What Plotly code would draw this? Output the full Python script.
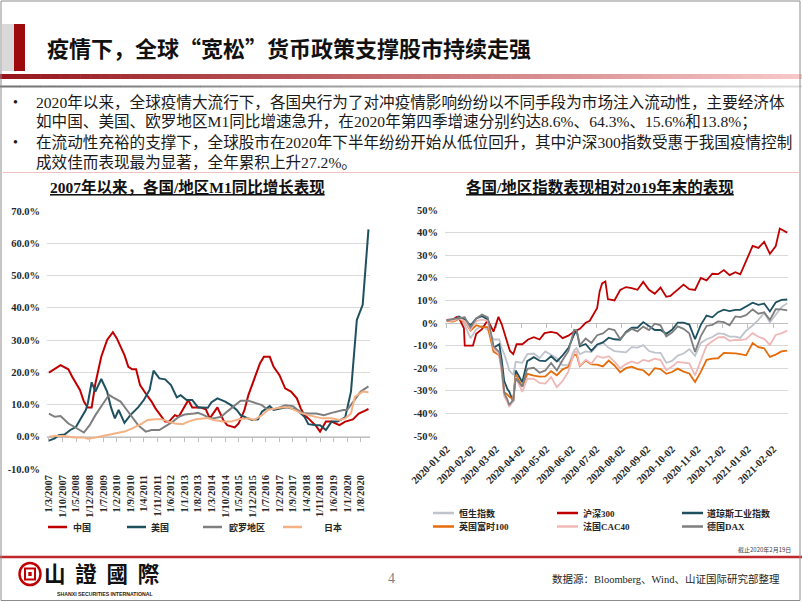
import plotly.graph_objects as go

W, H = 802, 602
def px(x): return x / W
def py(y): return 1 - y / H

SERIF_CJK = "Liberation Serif, Noto Sans CJK SC"
CJK = "Noto Sans CJK SC"

# ---------------- Left chart: M1 YoY growth (%) ----------------
cn_dates = ['2007-03','2007-09','2008-01','2008-03','2008-07','2008-09','2008-11','2009-01','2009-03','2009-06',
            '2009-09','2009-12','2010-02','2010-06','2010-08','2010-10','2010-12','2011-02','2011-05','2011-08',
            '2011-10','2012-01','2012-03','2012-05','2012-08','2012-10','2013-01','2013-03','2013-05','2013-09',
            '2013-12','2014-02','2014-06','2014-09','2014-11','2015-03','2015-05','2015-08','2015-10','2016-01',
            '2016-04','2016-06','2016-09','2016-11','2017-02','2017-05','2017-08','2017-11','2018-01','2018-03',
            '2018-05','2018-09','2018-11','2019-02','2019-05','2019-09','2019-12','2020-04','2020-07','2020-10','2020-12']
cn_vals = [19.9,22.2,20.9,18.6,14.5,10.9,9.1,9.1,16.5,24.8,
           30.0,32.4,30.5,25.3,21.7,20.9,20.9,16.0,13.4,10.9,
           8.8,6.2,4.7,4.7,6.7,6.2,9.3,11.4,9.1,9.1,
           8.5,5.7,9.1,5.2,3.6,2.9,4.1,8.3,12.9,17.6,
           22.8,24.8,24.8,21.7,19.1,15.0,14.0,11.9,8.8,6.7,
           5.7,3.3,1.6,4.7,4.7,3.6,4.7,5.4,7.2,8.0,8.6]

us_dates = ['2007-03','2007-06','2007-08','2007-11','2008-02','2008-05','2008-07','2008-10','2008-11','2009-01',
            '2009-03','2009-06','2009-09','2009-11','2010-01','2010-03','2010-06','2010-09','2011-01','2011-04',
            '2011-07','2011-09','2011-12','2012-03','2012-06','2012-09','2012-11','2013-02','2013-05','2013-08',
            '2013-10','2014-01','2014-03','2014-06','2014-10','2015-01','2015-04','2015-06','2015-09','2015-12',
            '2016-03','2016-05','2016-09','2016-11','2017-03','2017-06','2017-10','2017-12','2018-03','2018-05',
            '2018-09','2018-11','2019-02','2019-05','2019-08','2019-11','2019-12','2020-03','2020-06','2020-09','2020-12']
us_vals = [-1.2,-0.5,0.5,0.7,2.1,3.1,5.2,8.3,10.3,16.9,
           14.0,17.9,14.0,9.1,5.7,8.3,4.3,6.7,9.1,11.4,
           14.5,20.5,18.1,17.8,16.0,12.2,12.9,11.4,11.4,9.1,
           9.1,9.0,10.7,11.9,10.9,9.8,8.3,6.7,5.9,5.2,
           5.4,7.8,9.5,8.3,8.8,9.1,8.5,7.8,6.2,3.9,
           3.6,3.6,2.1,4.7,4.7,5.6,6.0,14.0,36.2,40.9,64.3]

ez_dates = ['2007-03','2007-06','2007-09','2008-01','2008-04','2008-07','2008-09','2008-12','2009-03','2009-07',
            '2009-10','2009-12','2010-04','2010-06','2010-10','2011-01','2011-05','2011-08','2011-12','2012-03',
            '2012-07','2012-10','2013-01','2013-06','2013-08','2013-11','2014-02','2014-04','2014-08','2014-11',
            '2015-03','2015-06','2015-10','2016-01','2016-05','2016-07','2016-11','2017-02','2017-05','2017-09',
            '2017-11','2018-02','2018-05','2018-09','2019-01','2019-05','2019-08','2019-11','2020-01','2020-05',
            '2020-08','2020-12']
ez_vals = [7.2,6.2,6.4,4.1,3.1,2.1,1.3,3.6,6.7,10.3,
           13.0,12.2,10.9,9.3,6.2,3.6,1.6,2.1,2.1,3.3,
           4.7,6.2,6.9,7.2,7.4,6.7,5.7,5.7,6.2,7.8,
           9.8,11.2,11.2,10.5,9.8,8.8,8.5,9.1,9.8,9.5,
           8.5,7.4,7.2,7.2,6.7,7.4,7.8,8.3,8.3,11.4,
           14.0,15.6]

jp_dates = ['2007-03','2007-06','2007-11','2008-04','2008-09','2008-11','2009-03','2009-08','2010-01','2010-06',
            '2010-10','2011-03','2011-06','2011-10','2012-01','2012-05','2012-08','2012-12','2013-03','2013-07',
            '2013-10','2014-01','2014-04','2014-09','2015-01','2015-05','2015-10','2016-01','2016-05','2016-08',
            '2016-12','2017-03','2017-07','2017-10','2018-01','2018-05','2018-08','2018-12','2019-05','2019-09',
            '2019-12','2020-03','2020-05','2020-09','2020-12']
jp_vals = [0.0,0.2,0.2,-0.2,-0.2,-0.6,-0.2,0.5,1.0,1.6,
           2.6,4.1,5.2,5.4,5.4,4.7,4.1,3.9,4.7,5.4,
           5.6,5.8,5.2,4.7,4.7,5.4,5.7,5.2,6.7,8.3,
           8.8,9.1,9.1,8.3,7.4,6.7,6.2,5.7,5.7,5.2,
           5.7,7.2,12.4,14.0,13.8]

left_names = ['中国', '美国', '欧罗地区', '日本']
left_tick_dates = ['2007-03-01','2007-10-01','2008-05-01','2008-12-01','2009-07-01','2010-02-01','2010-09-01',
                   '2011-04-01','2011-11-01','2012-06-01','2013-01-01','2013-08-01','2014-03-01','2014-10-01',
                   '2015-05-01','2015-12-01','2016-07-01','2017-02-01','2017-09-01','2018-04-01','2018-11-01',
                   '2019-06-01','2020-01-01','2020-08-01']
left_tick_labels = ['1/3/2007','1/10/2007','1/5/2008','1/12/2008','1/7/2009','1/2/2010','1/9/2010',
                    '1/4/2011','1/11/2011','1/6/2012','1/1/2013','1/8/2013','1/3/2014','1/10/2014',
                    '1/5/2015','1/12/2015','1/7/2016','1/2/2017','1/9/2017','1/4/2018','1/11/2018',
                    '1/6/2019','1/1/2020','1/8/2020']
left_y_ticks = [-10, 0, 10, 20, 30, 40, 50, 60, 70]
left_y_labels = ['-10.0%', '0.0%', '10.0%', '20.0%', '30.0%', '40.0%', '50.0%', '60.0%', '70.0%']

# ---------------- Right chart: index performance vs end-2019 (%) ----------------
week_dates = ['2020-01-02','2020-01-10','2020-01-17','2020-01-24','2020-01-31','2020-02-07','2020-02-14','2020-02-21',
              '2020-02-28','2020-03-06','2020-03-09','2020-03-12','2020-03-16','2020-03-18','2020-03-23','2020-03-26',
              '2020-04-03','2020-04-09','2020-04-17','2020-04-24','2020-05-01','2020-05-08','2020-05-15','2020-05-22',
              '2020-05-29','2020-06-05','2020-06-08','2020-06-12','2020-06-19','2020-06-26','2020-07-03','2020-07-10',
              '2020-07-17','2020-07-24','2020-07-31','2020-08-07','2020-08-14','2020-08-21','2020-08-28','2020-09-04',
              '2020-09-11','2020-09-18','2020-09-25','2020-10-02','2020-10-09','2020-10-16','2020-10-23','2020-10-30',
              '2020-11-06','2020-11-13','2020-11-20','2020-11-27','2020-12-04','2020-12-11','2020-12-18','2020-12-24',
              '2020-12-31','2021-01-08','2021-01-15','2021-01-22','2021-01-29','2021-02-05','2021-02-12','2021-02-19']
hsi_vals = [1.3, 1.6, 3.1, -1.0, -6.7, -2.8, -1.3, -3.1,
            -7.3, -7.3, -11.2, -13.8, -18.2, -20.9, -23.0, -17.2,
            -17.6, -13.8, -13.5, -15.5, -12.6, -14.0, -15.6, -18.7,
            -18.5, -12.1, -11.1, -13.8, -12.6, -12.9, -10.0, -8.7,
            -11.0, -12.4, -12.8, -13.0, -10.7, -10.9, -9.8, -12.4,
            -13.1, -13.2, -17.6, -16.8, -14.4, -13.5, -11.6, -14.5,
            -8.8, -7.2, -6.2, -4.6, -4.8, -6.0, -6.0, -6.6,
            -3.4, -1.1, 1.4, 4.5, 0.3, 3.9, 7.0, 8.7]
dji_vals = [1.2, 1.0, 2.8, 1.6, -1.0, 2.0, 3.0, 1.6,
            -11.0, -9.4, -16.4, -25.7, -29.3, -30.3, -34.9, -21.0,
            -26.2, -16.9, -15.1, -16.7, -16.9, -14.7, -17.0, -14.3,
            -11.1, -5.0, -3.4, -10.3, -9.3, -12.3, -9.5, -8.6,
            -6.5, -7.2, -7.4, -3.9, -2.1, -2.1, 0.4, -1.4,
            -3.1, -3.1, -4.8, -3.0, 0.2, 0.2, -0.7, -7.1,
            -0.8, 3.3, 2.5, 4.8, 5.9, 5.3, 5.8, 5.8,
            7.2, 9.0, 8.0, 8.6, 5.1, 9.1, 10.2, 10.4]
ftse_vals = [0.8, 0.6, 1.8, 0.6, -3.4, -1.0, -1.8, -1.8,
             -12.7, -14.3, -20.9, -30.6, -31.7, -32.6, -33.8, -22.9,
             -28.2, -22.5, -23.3, -23.7, -23.6, -21.3, -23.1, -20.5,
             -19.4, -14.0, -14.2, -19.1, -16.6, -18.3, -18.4, -19.2,
             -16.6, -18.8, -21.8, -20.0, -19.3, -20.4, -20.9, -23.1,
             -20.0, -20.4, -22.5, -21.7, -20.2, -21.5, -22.3, -26.1,
             -21.6, -16.3, -15.8, -15.6, -13.2, -13.2, -13.4, -13.8,
             -14.3, -8.9, -10.7, -11.2, -15.0, -14.0, -12.6, -12.2]
cac_vals = [1.1, 1.0, 2.1, 0.8, -2.9, 0.9, 1.5, 0.9,
            -11.2, -14.0, -22.4, -32.4, -35.1, -37.2, -34.5, -24.0,
            -30.5, -24.6, -24.7, -26.5, -26.8, -23.9, -28.4, -25.6,
            -21.5, -13.0, -12.6, -19.0, -16.3, -17.9, -14.6, -15.4,
            -14.7, -17.1, -20.0, -18.2, -17.0, -17.9, -16.3, -16.9,
            -15.8, -16.4, -20.9, -19.3, -17.2, -17.4, -17.9, -23.2,
            -17.0, -10.0, -8.1, -6.4, -6.2, -7.9, -7.5, -7.6,
            -7.1, -4.5, -6.1, -7.0, -9.7, -5.3, -4.6, -3.4]
dax_vals = [1.0, 1.8, 2.1, 2.5, -2.0, 2.0, 3.7, 2.5,
            -10.3, -12.9, -19.8, -30.9, -34.0, -36.3, -34.0, -24.5,
            -28.1, -20.3, -19.8, -22.0, -21.0, -17.7, -21.0, -16.4,
            -12.5, -3.0, -3.2, -9.8, -6.9, -8.8, -5.4, -4.6,
            -2.5, -3.1, -7.1, -4.3, -2.6, -3.7, -1.6, -3.1,
            -0.3, -1.0, -5.9, -4.2, -1.5, -2.6, -4.6, -12.8,
            -5.8, -1.3, -0.8, 0.7, 0.4, -1.0, 2.9, 2.6,
            3.5, 6.0, 4.1, 4.7, 1.4, 6.1, 6.0, 5.6]
csi_dates = ['2020-01-02','2020-01-10','2020-01-14','2020-01-17','2020-01-23','2020-01-24','2020-02-03','2020-02-07',
             '2020-02-14','2020-02-21','2020-02-28','2020-03-05','2020-03-09','2020-03-13','2020-03-16','2020-03-19',
             '2020-03-23','2020-03-27','2020-04-03','2020-04-10','2020-04-17','2020-04-24','2020-04-30','2020-05-08',
             '2020-05-15','2020-05-22','2020-05-29','2020-06-05','2020-06-12','2020-06-19','2020-06-24','2020-07-03',
             '2020-07-06','2020-07-09','2020-07-13','2020-07-16','2020-07-24','2020-07-31','2020-08-07','2020-08-14',
             '2020-08-21','2020-08-28','2020-09-04','2020-09-11','2020-09-18','2020-09-25','2020-09-30','2020-10-16',
             '2020-10-23','2020-10-30','2020-11-06','2020-11-13','2020-11-20','2020-11-27','2020-12-04','2020-12-11',
             '2020-12-18','2020-12-24','2020-12-31','2021-01-08','2021-01-15','2021-01-22','2021-01-29','2021-02-05',
             '2021-02-10','2021-02-19']
csi_vals = [1.4, 1.6, 2.6, 2.2, -2.3, -10.0, -10.0, -4.8,
            -2.7, 1.3, -3.8, 2.7, -0.6, -4.9, -9.0, -12.4,
            -13.8, -9.4, -9.4, -7.3, -6.3, -7.3, -4.5, -3.9,
            -4.5, -6.7, -5.6, -3.8, -2.6, 0.1, 1.0, 6.7,
            14.0, 17.5, 18.4, 10.6, 10.0, 14.6, 15.9, 15.4,
            14.7, 18.2, 14.7, 12.9, 15.7, 11.6, 12.0, 17.0,
            15.0, 14.6, 20.0, 18.9, 21.8, 21.6, 23.4, 21.2,
            22.5, 21.5, 27.2, 34.1, 33.2, 35.9, 30.6, 33.9,
            41.8, 40.0]

right_names = ['恒生指数', '沪深300', '道琼斯工业指数', '英国富时100', '法国CAC40', '德国DAX']
right_tick_dates = ['2020-01-02','2020-02-02','2020-03-02','2020-04-02','2020-05-02','2020-06-02','2020-07-02',
                    '2020-08-02','2020-09-02','2020-10-02','2020-11-02','2020-12-02','2021-01-02','2021-02-02']
right_y_ticks = [-50, -40, -30, -20, -10, 0, 10, 20, 30, 40, 50]
right_y_labels = ['-50%', '-40%', '-30%', '-20%', '-10%', '0%', '10%', '20%', '30%', '40%', '50%']

# ---------------- styles ----------------
RED, TEAL, GRAY, PEACH = '#c00000', '#1f5060', '#7f7f7f', '#f4b183'
HSI_C, FTSE_C, CAC_C = '#bfc3cb', '#e46c0a', '#f0b7b7'
left_colors = [RED, TEAL, GRAY, PEACH]
right_colors = [HSI_C, RED, TEAL, FTSE_C, CAC_C, GRAY]
TICKFONT = dict(family='Liberation Serif', size=10.5, color='#262626', weight='bold')

fig = go.Figure()
for xs, ys, c, n in [(cn_dates, cn_vals, RED, left_names[0]), (us_dates, us_vals, TEAL, left_names[1]),
                     (ez_dates, ez_vals, GRAY, left_names[2]), (jp_dates, jp_vals, PEACH, left_names[3])]:
    fig.add_trace(go.Scatter(x=xs, y=ys, mode='lines', name=n, line=dict(color=c, width=2),
                             xaxis='x', yaxis='y', hoverinfo='skip', showlegend=False))

right_series = [(week_dates, hsi_vals), (csi_dates, csi_vals), (week_dates, dji_vals),
                (week_dates, ftse_vals), (week_dates, cac_vals), (week_dates, dax_vals)]
for (xs, ys), c, n in zip(right_series, right_colors, right_names):
    fig.add_trace(go.Scatter(x=xs, y=ys, mode='lines', name=n, line=dict(color=c, width=1.8),
                             xaxis='x2', yaxis='y2', hoverinfo='skip', showlegend=False))

# helper traces so the zero-line tick axes are drawn
fig.add_trace(go.Scatter(x=left_tick_dates[:1], y=[None], mode='lines', xaxis='x3', yaxis='y',
                         hoverinfo='skip', showlegend=False))
fig.add_trace(go.Scatter(x=right_tick_dates[:1], y=[None], mode='lines', xaxis='x4', yaxis='y2',
                         hoverinfo='skip', showlegend=False))

L_RANGE = ['2007-01-30', '2020-12-25']
R_RANGE = ['2019-12-31', '2021-02-20']

layout_axes = dict(
    xaxis=dict(domain=[px(47), px(370)], range=L_RANGE, type='date', tickmode='array',
               tickvals=left_tick_dates, ticktext=left_tick_labels, tickangle=-90, tickfont=TICKFONT,
               showgrid=False, zeroline=False, showline=False, ticks='', anchor='y', ticklabelstandoff=3),
    yaxis=dict(domain=[py(469), py(211)], range=[-10, 70], tickmode='array', tickvals=left_y_ticks,
               ticktext=left_y_labels, tickfont=TICKFONT, showgrid=True, gridcolor='#d9d9d9', gridwidth=1,
               zeroline=False, showline=False, ticks='', anchor='x', ticklabelstandoff=6),
    xaxis3=dict(overlaying='x', anchor='free', position=py(437), range=L_RANGE, type='date', tickmode='array',
                tickvals=left_tick_dates, showticklabels=False, ticks='outside', ticklen=4, tickwidth=1,
                tickcolor='#bfbfbf', showline=True, linecolor='#bfbfbf', linewidth=1, showgrid=False,
                zeroline=False, layer='below traces'),
    xaxis2=dict(domain=[px(445), px(788)], range=R_RANGE, type='date', tickmode='array',
                tickvals=right_tick_dates, ticktext=right_tick_dates, tickangle=-45, tickfont=TICKFONT,
                showgrid=False, zeroline=False, showline=False, ticks='', anchor='y2', ticklabelstandoff=4),
    yaxis2=dict(domain=[py(436), py(210)], range=[-50, 50], tickmode='array', tickvals=right_y_ticks,
                ticktext=right_y_labels, tickfont=TICKFONT, showgrid=True, gridcolor='#d9d9d9', gridwidth=1,
                zeroline=False, showline=False, ticks='', anchor='x2', ticklabelstandoff=6),
    xaxis4=dict(overlaying='x2', anchor='free', position=py(323.3), range=R_RANGE, type='date',
                tickmode='array', tickvals=right_tick_dates, showticklabels=False, ticks='outside', ticklen=4,
                tickwidth=1, tickcolor='#bfbfbf', showline=True, linecolor='#bfbfbf', linewidth=1,
                showgrid=False, zeroline=False, layer='below traces'),
)

shapes = []
def rect(x0, y0, x1, y1, fill, line_w=0, line_c=None):
    shapes.append(dict(type='rect', xref='paper', yref='paper', x0=px(x0), x1=px(x1), y0=py(y1), y1=py(y0),
                       fillcolor=fill, line=dict(width=line_w, color=line_c or fill)))
def hline(x0, x1, y, color, w):
    shapes.append(dict(type='line', xref='paper', yref='paper', x0=px(x0), x1=px(x1), y0=py(y), y1=py(y),
                       line=dict(color=color, width=w)))

# title block
rect(2, 24, 14, 71, '#d9d9d9')
rect(14, 24, 25, 71, '#9c0a0e')
# gradient red band under the title
N = 80
c0, c1 = (150, 22, 28), (247, 200, 200)
for i in range(N):
    t = i / (N - 1)
    col = 'rgb(%d,%d,%d)' % tuple(round(a + (b - a) * t) for a, b in zip(c0, c1))
    rect(i * W / N, 74, (i + 1) * W / N + 0.6, 79, col)
# thin gray gradient line
g0, g1 = (115, 115, 115), (220, 220, 220)
for i in range(40):
    t = i / 39
    col = 'rgb(%d,%d,%d)' % tuple(round(a + (b - a) * t) for a, b in zip(g0, g1))
    hline(i * W / 40, (i + 1) * W / 40 + 0.5, 86.5, col, 2)
# pink separator below bullets
hline(3, 799, 172.5, '#efc2c2', 1)
# footer red line
hline(0, 802, 557, '#c0272d', 2.5)
# outer slide border
shapes.append(dict(type='rect', xref='paper', yref='paper', x0=px(1), x1=px(800), y0=py(600.5), y1=py(1),
                   line=dict(color='#8c8c8c', width=1)))
# logo seal
shapes.append(dict(type='circle', xref='paper', yref='paper', x0=px(19.5), x1=px(40.5), y0=py(585), y1=py(563),
                   line=dict(color='#c00000', width=2.5)))
shapes.append(dict(type='rect', xref='paper', yref='paper', x0=px(25), x1=px(35), y0=py(579.5), y1=py(568.5),
                   line=dict(color='#c00000', width=2)))
rect(28.3, 572, 31.7, 576, '#c00000')

annotations = []
def text(x, y, s, size, family=SERIF_CJK, color='#1a1a1a', anchor='left', weight='normal'):
    annotations.append(dict(xref='paper', yref='paper', x=px(x), y=py(y), text=s, showarrow=False,
                            xanchor=anchor, yanchor='middle', borderpad=0,
                            font=dict(size=size, family=family, color=color, weight=weight)))

# slide title
text(46, 47, '疫情下，全球“宽松”货币政策支撑股市持续走强', 22, family=CJK, color='#111111', weight='bold')
# bullets
bullet_lines = ['2020年以来，全球疫情大流行下，各国央行为了对冲疫情影响纷纷以不同手段为市场注入流动性，主要经济体',
                '如中国、美国、欧罗地区M1同比增速急升，在2020年第四季增速分别约达8.6%、64.3%、15.6%和13.8%；',
                '在流动性充裕的支撑下，全球股市在2020年下半年纷纷开始从低位回升，其中沪深300指数受惠于我国疫情控制',
                '成效佳而表现最为显著，全年累积上升27.2%。']
for i, s in enumerate(bullet_lines):
    yy = 102 + 20 * i
    if i in (0, 2):
        text(12, yy, '•', 14, color='#1a1a1a')
    text(35, yy, s, 15.6)

# chart titles
text(187, 187, '<u>2007年以来，各国/地区M1同比增长表现</u>', 15.5, anchor='center', weight='bold', color='#111111')
text(600, 187, '<u>各国/地区指数表现相对2019年末的表现</u>', 15.5, anchor='center', weight='bold', color='#111111')

# left legend
for n, c, lx, tx in zip(left_names, left_colors, [48, 127, 203, 283], [72, 150, 228, 323]):
    hline(lx, lx + 19, 527, c, 2.5)
    text(tx, 527, n, 9, family=CJK, color='#262626', weight='bold')
# right legend
cols = [(433, 458), (557, 582), (682, 706)]
for k, (n, c) in enumerate(zip(right_names, right_colors)):
    lx, tx = cols[k % 3]
    yy = 513 if k < 3 else 526.5
    hline(lx, lx + 21, yy, c, 2.5)
    text(tx, yy, n, 9, color='#262626', weight='bold')

# footer
text(792, 549, '截止2020年2月19日', 6, family=CJK, color='#404040', anchor='right')
text(43, 572, '山\u00a0\u00a0證\u00a0\u00a0國\u00a0\u00a0際', 21.5, family='Noto Sans CJK TC', color='#111111', weight='bold')
text(56, 594, 'SHANXI SECURITIES INTERNATIONAL', 5.2, family='Liberation Sans', color='#222222', weight='bold')
text(391, 578, '4', 14, family='Liberation Serif', color='#7f7f7f', anchor='center')
text(781, 579, '数据源：Bloomberg、Wind、山证国际研究部整理', 10.5, color='#262626', anchor='right')

fig.update_layout(width=W, height=H, margin=dict(l=0, r=0, t=0, b=0), template='none',
                  paper_bgcolor='white', plot_bgcolor='white', showlegend=False, hovermode=False,
                  shapes=shapes, annotations=annotations, **layout_axes)

fig.write_html('out.html')
